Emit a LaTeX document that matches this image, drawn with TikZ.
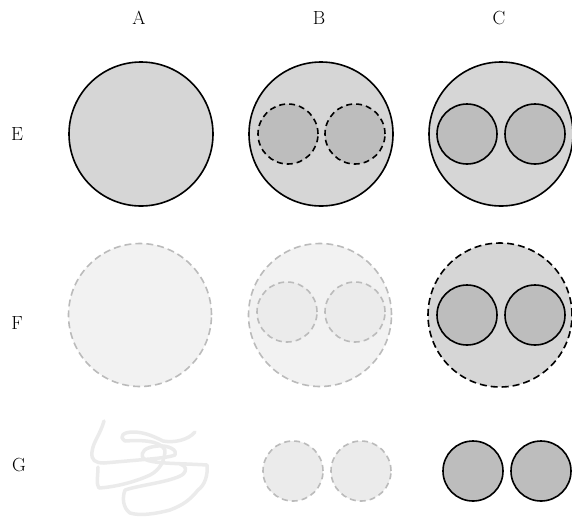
\documentclass[tikz,border=0pt]{standalone}
\usetikzlibrary{calc}
\definecolor{outerfill}{HTML}{D6D6D6}
\definecolor{innerfill}{HTML}{BDBDBD}
\definecolor{ghostfill}{HTML}{F2F2F2}
\definecolor{ghostinner}{HTML}{EBEBEB}
\definecolor{ghostline}{HTML}{BBBBBB}
\definecolor{scribble}{HTML}{EBEBEB}
\tikzset{
  lbl/.style={font=\fontsize{19}{22}\selectfont, inner sep=0pt},
  outerc/.style={circle, draw=black, line width=1.6pt, fill=outerfill, minimum size=144pt, inner sep=0pt},
  outerd/.style={outerc, dash pattern=on 7pt off 4pt},
  innerc/.style={circle, draw=black, line width=1.6pt, fill=innerfill, minimum size=60pt, inner sep=0pt},
  innerd/.style={innerc, dash pattern=on 6pt off 4pt},
  ghosto/.style={circle, draw=ghostline, line width=1.6pt, fill=ghostfill, dash pattern=on 7pt off 4pt, minimum size=143pt, inner sep=0pt},
  ghosti/.style={circle, draw=ghostline, line width=1.6pt, fill=ghostinner, dash pattern=on 6pt off 4pt, minimum size=60pt, inner sep=0pt},
}
\begin{document}
\begin{tikzpicture}[x=1pt,y=-1pt]
\useasboundingbox (0,0) rectangle (572,520);
% labels
\node[lbl] (A) at (139,18) {A};
\node[lbl] (B) at (319,18) {B};
\node[lbl] (C) at (499,18) {C};
\node[lbl] (E) at (17,134) {E};
\node[lbl] (F) at (17,323) {F};
\node[lbl] (G) at (19,465) {G};
% row E
\node[outerc] (EA) at (141,134) {};
\node[outerc] (EB) at (321,134) {};
\node[innerd] (EB1) at (288,134) {};
\node[innerd] (EB2) at (355,134) {};
\node[outerc] (EC) at (501,134) {};
\node[innerc] (EC1) at (467,134) {};
\node[innerc] (EC2) at (535,134) {};
% row F
\node[ghosto] (FA) at (140,315) {};
\node[ghosto] (FB) at (320,315) {};
\node[ghosti] (FB1) at (287,312) {};
\node[ghosti] (FB2) at (355,312) {};
\node[outerd] (FC) at (500,315) {};
\node[innerc] (FC1) at (467,315) {};
\node[innerc] (FC2) at (535,315) {};
% row G
\draw[scribble, line width=3.5pt, line cap=round, line join=round]
  (104,421) .. controls (100,435) and (93,442) .. (92,452)
  .. controls (91,460) and (95,463) .. (104,463)
  -- (150,459) .. controls (160,458) and (170,457) .. (175,455)
  .. controls (178,450) and (168,445) .. (158,446)
  .. controls (145,447) and (140,452) .. (143,458)
  .. controls (150,464) and (175,463) .. (207,465)
  .. controls (208,475) and (205,485) .. (198,490)
  .. controls (190,500) and (183,505) .. (170,510)
  .. controls (155,514) and (140,516) .. (130,513)
  .. controls (123,508) and (122,498) .. (125,490)
  .. controls (140,485) and (170,482) .. (182,475)
  .. controls (188,470) and (186,466) .. (180,464);
\draw[scribble, line width=3.5pt, line cap=round, line join=round]
  (98,467) .. controls (98,475) and (96,485) .. (99,488)
  .. controls (115,487) and (135,482) .. (150,475)
  .. controls (160,470) and (165,460) .. (165,450)
  .. controls (160,440) and (140,440) .. (125,441)
  .. controls (118,436) and (124,432) .. (133,432)
  .. controls (145,432) and (155,437) .. (163,441)
  .. controls (175,443) and (188,440) .. (195,432);
\node[ghosti] (GB1) at (293,471) {};
\node[ghosti] (GB2) at (361,471) {};
\node[innerc] (GC1) at (473,471) {};
\node[innerc] (GC2) at (541,471) {};
\end{tikzpicture}
\end{document}
